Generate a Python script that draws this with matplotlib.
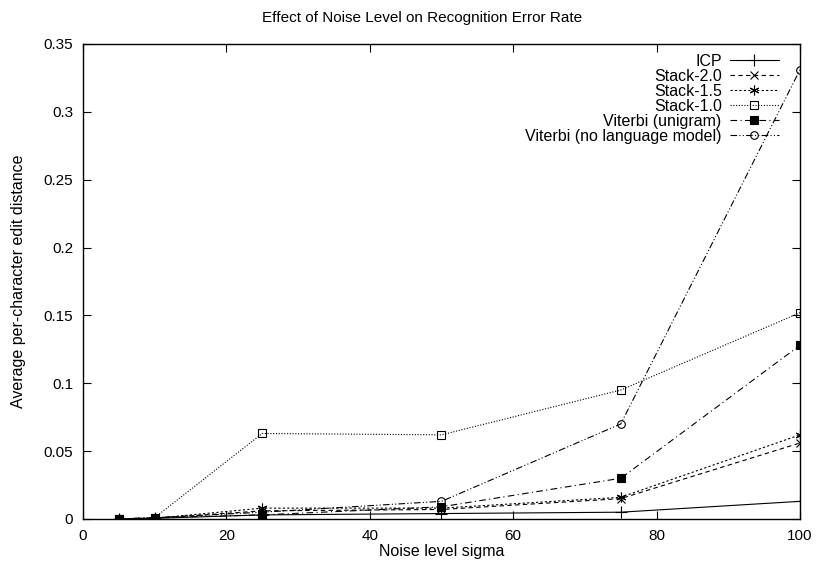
import matplotlib
matplotlib.use("Agg")
import matplotlib.pyplot as plt

# ── data ─────────────────────────────────────────────────────────────────────
sigma = [5, 10, 25, 50, 75, 100]

icp = [0.0, 0.0005, 0.003, 0.004, 0.005, 0.013]
stack_20 = [0.0, 0.0005, 0.006, 0.007, 0.015, 0.056]
stack_15 = [0.0, 0.0005, 0.008, 0.008, 0.016, 0.062]
stack_10 = [0.0, 0.001, 0.063, 0.062, 0.095, 0.152]
viterbi_uni = [0.0, 0.001, 0.003, 0.009, 0.030, 0.128]
viterbi_nolm = [0.0, 0.001, 0.005, 0.013, 0.070, 0.331]

labels = ["ICP", "Stack-2.0", "Stack-1.5", "Stack-1.0",
          "Viterbi (unigram)", "Viterbi (no language model)"]

# ── style (gnuplot-like) ─────────────────────────────────────────────────────
plt.rcParams.update({
    "font.family": ["Liberation Sans", "DejaVu Sans"],
    "font.size": 11,
    "xtick.direction": "in",
    "ytick.direction": "in",
    "xtick.top": True,
    "ytick.right": True,
    "xtick.major.size": 6,
    "ytick.major.size": 6,
    "xtick.major.pad": 7,
    "ytick.major.pad": 7,
    "axes.linewidth": 1.0,
})

# open markers are unfilled, as in gnuplot
series = [
    (icp, dict(linestyle="-", marker="+", markersize=8)),
    (stack_20, dict(linestyle=(0, (4, 3)), marker="x", markersize=6)),
    (stack_15, dict(linestyle=(0, (2, 2)), marker=(6, 2, 0), markersize=7)),
    (stack_10, dict(linestyle=(0, (1, 1.5)), marker="s", markersize=5.5,
                    markerfacecolor="none")),
    (viterbi_uni, dict(linestyle=(0, (6, 3, 1, 3)), marker="s", markersize=5.5)),
    (viterbi_nolm, dict(linestyle=(0, (6, 2, 1, 2, 1, 2)), marker="o",
                        markersize=5.5, markerfacecolor="none")),
]

fig = plt.figure(figsize=(8.16, 5.68), dpi=100)
ax = fig.add_axes([0.1017, 0.0863, 0.8787, 0.8363])

for (vals, kw), lbl in zip(series, labels):
    ax.plot(sigma, vals, color="black", linewidth=0.8,
            markeredgewidth=0.8, label=lbl, **kw)

ax.set_xlim(0, 100)
ax.set_ylim(0, 0.35)
ax.set_xticks([0, 20, 40, 60, 80, 100])
ax.set_yticks([0, 0.05, 0.1, 0.15, 0.2, 0.25, 0.3, 0.35])
ax.set_yticklabels(["0", "0.05", "0.1", "0.15", "0.2", "0.25", "0.3", "0.35"])
ax.set_xlabel("Noise level sigma", labelpad=1, fontsize=11.5)
ax.set_ylabel("Average per-character edit distance", labelpad=13, fontsize=11.5)

# gnuplot centres the title a bit left of the plot area's middle
fig.text(422 / 816, 1 - 18 / 568, "Effect of Noise Level on Recognition Error Rate",
         ha="center", va="center", fontsize=11)

ax.legend(loc="upper right", bbox_to_anchor=(0.971, 0.979),
          markerfirst=False, frameon=False, borderaxespad=0, borderpad=0,
          handlelength=3.1, handletextpad=0.5, labelspacing=0.0,
          fontsize=11.5)

fig.savefig("out.png", dpi=100)
